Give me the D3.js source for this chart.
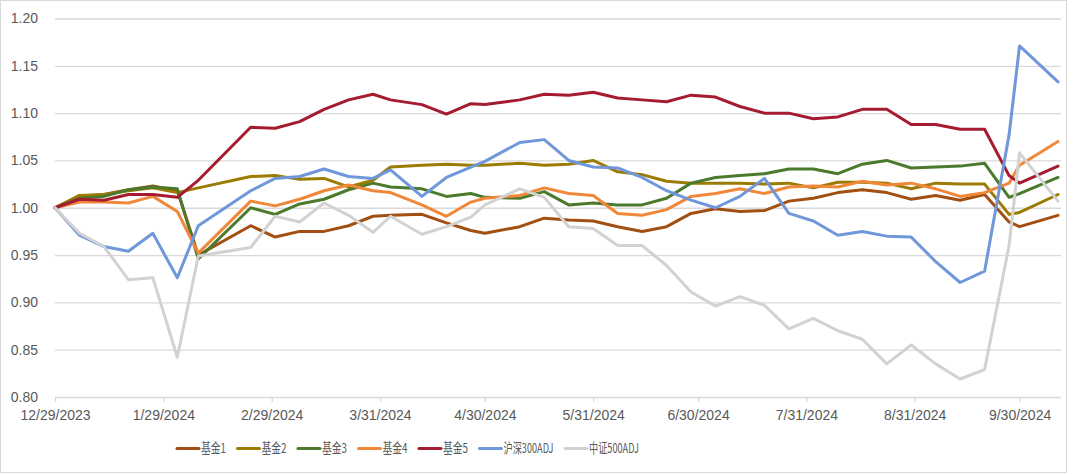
<!DOCTYPE html>
<html><head><meta charset="utf-8">
<script src="https://cdn.jsdelivr.net/npm/d3@7"></script>
<style>body{margin:0;background:#fff;} svg{display:block;}</style>
</head><body>
<svg id="c" width="1080" height="474"></svg>
<script>
// ---- data ----
const dates = ["2023-12-29","2024-01-05","2024-01-12","2024-01-19","2024-01-26","2024-02-02","2024-02-08","2024-02-23",
"2024-03-01","2024-03-08","2024-03-15","2024-03-22","2024-03-29","2024-04-03","2024-04-12","2024-04-19","2024-04-26",
"2024-04-30","2024-05-10","2024-05-17","2024-05-24","2024-05-31","2024-06-07","2024-06-14","2024-06-21","2024-06-28",
"2024-07-05","2024-07-12","2024-07-19","2024-07-26","2024-08-02","2024-08-09","2024-08-16","2024-08-23","2024-08-30",
"2024-09-06","2024-09-13","2024-09-20","2024-09-27","2024-09-30","2024-10-11"];

const seriesNames = ["基金1","基金2","基金3","基金4","基金5","沪深300ADJ","中证500ADJ"];

const fund1 = [1.000,1.012,1.014,1.019,1.023,1.018,0.950,0.981,0.969,0.975,0.975,0.981,0.991,0.992,0.993,0.984,0.976,
0.973,0.980,0.989,0.987,0.986,0.980,0.975,0.980,0.994,0.999,0.996,0.997,1.007,1.010,1.016,1.019,1.016,1.009,
1.013,1.008,1.014,0.985,0.980,0.992];
const fund2 = [1.000,1.013,1.014,1.018,1.021,1.016,1.021,1.033,1.034,1.030,1.031,1.022,1.029,1.043,1.045,1.046,1.045,
1.045,1.047,1.045,1.046,1.050,1.038,1.035,1.028,1.026,1.026,1.026,1.025,1.026,1.021,1.027,1.027,1.026,1.020,
1.026,1.025,1.025,0.993,0.995,1.014];
const fund3 = [1.000,1.010,1.012,1.019,1.022,1.020,0.946,1.000,0.993,1.004,1.009,1.019,1.026,1.022,1.020,1.012,1.015,
1.011,1.010,1.017,1.003,1.005,1.003,1.003,1.010,1.026,1.032,1.034,1.036,1.041,1.041,1.036,1.046,1.050,1.042,
1.043,1.044,1.047,1.011,1.015,1.032];
const fund4 = [1.000,1.006,1.006,1.005,1.012,0.996,0.952,1.007,1.002,1.009,1.018,1.024,1.018,1.016,1.003,0.991,1.006,
1.010,1.013,1.021,1.015,1.013,0.994,0.992,0.998,1.012,1.015,1.020,1.015,1.022,1.023,1.022,1.028,1.024,1.026,
1.020,1.012,1.016,1.026,1.045,1.070];
const fund5 = [1.000,1.009,1.008,1.014,1.014,1.011,1.029,1.085,1.084,1.091,1.104,1.114,1.120,1.114,1.109,1.099,1.110,
1.109,1.114,1.120,1.119,1.122,1.116,1.114,1.112,1.119,1.117,1.107,1.100,1.100,1.094,1.096,1.104,1.104,1.088,
1.088,1.083,1.083,1.034,1.026,1.044];
const hs300 = [1.000,0.971,0.959,0.954,0.973,0.926,0.981,1.018,1.031,1.033,1.041,1.033,1.031,1.040,1.012,1.032,1.043,
1.049,1.069,1.072,1.050,1.043,1.042,1.032,1.018,1.008,1.000,1.012,1.031,0.994,0.986,0.971,0.975,0.970,0.969,
0.943,0.921,0.933,1.077,1.171,1.133];
const zz500 = [1.000,0.973,0.959,0.924,0.926,0.842,0.949,0.958,0.991,0.985,1.005,0.992,0.974,0.991,0.972,0.980,0.990,
1.003,1.020,1.011,0.980,0.978,0.960,0.960,0.939,0.911,0.896,0.906,0.897,0.872,0.883,0.870,0.861,0.835,0.855,
0.835,0.819,0.829,0.960,1.058,1.007];

const seriesValues = [fund1, fund2, fund3, fund4, fund5, hs300, zz500];
const colors = ["#A24F12","#9B7B02","#4B7A2C","#F0883A","#A51B2F","#6F97DA","#D2D2D2"];

const yTicks = [0.80,0.85,0.90,0.95,1.00,1.05,1.10,1.15,1.20];
const xTickDates = ["2023-12-29","2024-01-29","2024-02-29","2024-03-31","2024-04-30","2024-05-31","2024-06-30","2024-07-31","2024-08-31","2024-09-30"];

// ---- chart ----
const parse = d3.timeParse("%Y-%m-%d");
const fmt = d3.timeFormat("%-m/%-d/%Y");
const svg = d3.select("#c");

const plotL = 55, plotR = 1061;
const x = d3.scaleTime().domain([parse("2023-12-29"), parse("2024-10-11")]).range([55, 1058]);
const y = d3.scaleLinear().domain([0.80, 1.20]).range([397, 18.5]);

// outer border
svg.append("rect").attr("x",0.5).attr("y",0.5).attr("width",1066).attr("height",472)
  .attr("fill","#fff").attr("stroke","#D9D9D9").attr("stroke-width",1);

// y grid + labels
const gy = svg.append("g").attr("transform",`translate(${plotL},0)`)
  .call(d3.axisLeft(y).tickValues(yTicks).tickFormat(d3.format(".2f"))
    .tickSize(-(plotR-plotL)).tickPadding(17));
gy.select(".domain").remove();
gy.selectAll("line").attr("stroke","#D9D9D9").attr("stroke-width",1.3);
gy.selectAll("text").attr("fill","#595959").style("font-family","'Liberation Sans', Arial, sans-serif").style("font-size","14px");

// x axis ticks + labels
const gx = svg.append("g").attr("transform",`translate(0,${y(0.80)})`)
  .call(d3.axisBottom(x).tickValues(xTickDates.map(parse)).tickFormat(fmt).tickSize(5).tickSizeOuter(0).tickPadding(8));
gx.select(".domain").remove();
gx.selectAll("line").attr("stroke","#D9D9D9").attr("stroke-width",1.3);
gx.selectAll("text").attr("fill","#595959").style("font-family","'Liberation Sans', Arial, sans-serif").style("font-size","14px");

// lines
const pdates = dates.map(parse);
const line = d3.line().x((d,i)=>x(pdates[i])).y(d=>y(d));
seriesValues.forEach((vals, k) => {
  svg.append("path").datum(vals).attr("d", line).attr("fill","none")
    .attr("stroke", colors[k]).attr("stroke-width", 3)
    .attr("stroke-linejoin","round").attr("stroke-linecap","round");
});

// legend
const lg = svg.append("g").attr("transform","translate(0,448.5)");
let lx = 177;
seriesNames.forEach((name, k) => {
  lg.append("line").attr("x1", lx).attr("x2", lx+22).attr("y1",0).attr("y2",0)
    .attr("stroke", colors[k]).attr("stroke-width",3).attr("stroke-linecap","round");
  const w = name.length > 4 ? 50 : 25;
  lg.append("text").attr("x", lx+24).attr("y", 0).attr("dy","0.36em")
    .attr("fill","#595959").style("font-family","'Noto Sans CJK SC', sans-serif").style("font-size","13.5px")
    .attr("textLength", w).attr("lengthAdjust","spacingAndGlyphs")
    .text(name);
  lx = lx + 24 + w + 11.5;
});
</script>
</body></html>
